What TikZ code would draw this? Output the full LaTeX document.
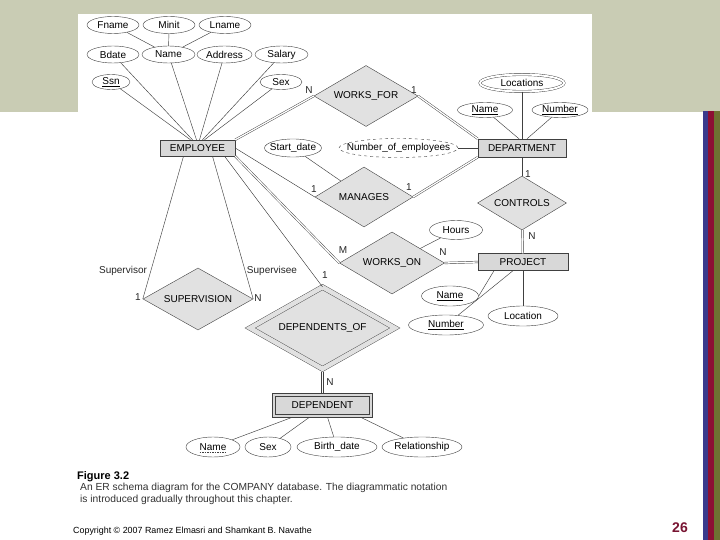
\documentclass[tikz,border=0pt]{standalone}
\usepackage{fontspec}
\setmainfont{Liberation Sans}
\usetikzlibrary{shapes}

\definecolor{bandgray}{RGB}{201,204,180}
\definecolor{boxgray}{RGB}{216,216,216}
\definecolor{diagray}{RGB}{225,225,225}
\definecolor{barblue}{RGB}{58,58,140}
\definecolor{barred}{RGB}{140,16,52}
\definecolor{barolive}{RGB}{110,114,50}
\definecolor{pagered}{RGB}{120,20,50}

\begin{document}
\begin{tikzpicture}[x=1pt, y=-1pt, font=\fontsize{10}{12}\selectfont, entity/.style={
% The shape:
rectangle,
% The size:
minimum width=#1, minimum height=17pt, inner sep=0pt,
% The border:
draw=black!75, fill=boxgray
}, entity/.default=75pt,
rel/.style={
% The shape:
diamond, aspect=1.7,
% The size:
minimum width=#1, inner sep=0pt,
% The border:
draw=black!75, fill=diagray
}, rel/.default=100pt,
attr/.style={
% The shape:
ellipse,
% The size:
minimum width=#1, minimum height=17pt, inner xsep=-30pt, inner ysep=-10pt,
% The border:
draw=black!75
}, attr/.default=52pt,
link/.style={draw=black!75, line width=0.45pt},
dbl/.style={link, double=white, double distance=1.3pt},
card/.style={inner sep=0pt, text=black!85}]

	% slide background
	\fill[white] (0,0) rectangle (720,540);
	\fill[bandgray] (0,0) rectangle (720,112);
	\fill[white] (78,14) rectangle (592,112);
	\fill[barblue] (703,111) rectangle (708,540);
	\fill[barred] (708,111) rectangle (714,540);
	\fill[barolive] (714,111) rectangle (720,540);

	% entities
	\node (EMP) [entity=75pt, minimum height=16pt] at (197.5,148) {EMPLOYEE};
	\node (DEPT) [entity=88pt, minimum height=18pt] at (522,148) {DEPARTMENT};
	\node (PROJ) [entity=90pt] at (523,262) {PROJECT};
	\node (DEP) [entity=100pt, minimum height=24pt] at (322.5,405) {DEPENDENT};
	\draw[link] ([xshift=3pt, yshift=-3pt]DEP.north west) rectangle ([xshift=-3pt, yshift=3pt]DEP.south east);

	% relationships
	\node (WF) [rel=104pt, minimum height=61pt] at (366,96) {WORKS\_FOR};
	\node (MAN) [rel=98pt, minimum height=60pt] at (364,197) {MANAGES};
	\node (CTRL) [rel=89pt, minimum height=54pt] at (522,203) {CONTROLS};
	\node (WO) [rel=105pt, minimum height=62pt] at (392,263) {WORKS\_ON};
	\node (SUP) [rel=110pt, minimum height=62pt] at (198,299) {SUPERVISION};
	\node (DEPOF) [rel=145pt, minimum height=82pt, double=diagray, double distance=4.5pt] at (322.5,328) {DEPENDENTS\_OF};

	% attributes of EMPLOYEE
	\node (FN) [attr] at (113,25) {Fname};
	\node (MI) [attr] at (169,25) {Minit};
	\node (LN) [attr] at (225,25) {Lname};
	\node (BD) [attr] at (113,54.5) {Bdate};
	\node (EN) [attr=53pt] at (168.5,54.5) {Name};
	\node (ADDR) [attr=55pt] at (224.5,54.5) {Address};
	\node (SAL) [attr=53pt] at (281.5,54.5) {Salary};
	\node (SSN) [attr=38pt, minimum height=15pt] at (111,82) {\underline{Ssn}};
	\node (SEX) [attr=42pt, minimum height=15pt] at (281,82) {Sex};

	% attributes of DEPARTMENT and MANAGES
	\node (LOC) [attr=84pt, double, double distance=2pt] at (522,83) {Locations};
	\node (DN) [attr=55pt, minimum height=15pt] at (485,110) {\underline{Name}};
	\node (DNUM) [attr=56pt, minimum height=15pt] at (560,110) {\underline{Number}};
	\node (NOE) [attr=119pt, minimum height=19pt, dashed] at (398.5,148) {Number\_of\_employees};
	\node (SD) [attr=57pt, minimum height=18pt] at (293,148) {Start\_date};

	% attributes of WORKS_ON and PROJECT
	\node (HRS) [attr=53pt, minimum height=19pt] at (456,230) {Hours};
	\node (PN) [attr=57pt, minimum height=20pt] at (450,296) {\underline{Name}};
	\node (PNUM) [attr=75pt, minimum height=20pt] at (446,325) {\underline{Number}};
	\node (PLOC) [attr=70pt, minimum height=20pt] at (523,316) {Location};

	% attributes of DEPENDENT
	\node (DNAME) [attr=54pt, minimum height=20pt] at (213,447) {Name};
	\draw[link, dash pattern=on 1.5pt off 1pt] ([xshift=-13.3pt, yshift=-1.8pt]DNAME.base) -- ([xshift=13.3pt, yshift=-1.8pt]DNAME.base);
	\node (DSEX) [attr=46pt, minimum height=20pt] at (268,447) {Sex};
	\node (DBD) [attr=80pt, minimum height=20pt] at (337,447) {Birth\_date};
	\node (DREL) [attr=80pt, minimum height=20pt] at (422,447) {Relationship};

	% connectors
	\draw[link] (FN) -- (EN);
	\draw[link] (MI) -- (EN);
	\draw[link] (LN) -- (EN);
	\draw[link] (SSN) -- ([xshift=-7]EMP.north);
	\draw[link] (BD) -- ([xshift=-5]EMP.north);
	\draw[link] (EN) -- ([xshift=-1]EMP.north);
	\draw[link] (ADDR) -- ([xshift=2]EMP.north);
	\draw[link] (SAL) -- ([xshift=5]EMP.north);
	\draw[link] (SEX) -- ([xshift=7]EMP.north);

	\draw[dbl] (EMP.north east) -- (WF.west);
	\draw[dbl] (WF.east) -- (DEPT.north west);
	\draw[link] (LOC) -- (DEPT);
	\draw[link] (DN) -- ([xshift=-3]DEPT.north);
	\draw[link] (DNUM) -- ([xshift=5]DEPT.north);
	\draw[link] (NOE) -- (DEPT);
	\draw[link] (SD) -- (MAN);
	\draw[link] (EMP.east) -- (MAN.west);
	\draw[dbl] (MAN.east) -- (DEPT.south west);
	\draw[link] (DEPT) -- (CTRL);
	\draw[dbl] (CTRL) -- (PROJ);

	\draw[dbl] (EMP.south east) -- (WO.west);
	\draw[link] (HRS) -- (WO);
	\draw[dbl] (WO.east) -- (PROJ.west);
	\draw[link] ([xshift=-29]PROJ.south) -- (PN.east);
	\draw[link] ([xshift=-10]PROJ.south) -- (PNUM);
	\draw[link] (PROJ) -- (PLOC);

	\draw[link] ([xshift=-14]EMP.south) -- (SUP.west);
	\draw[link] ([xshift=15]EMP.south) -- (SUP.east);
	\draw[link] ([xshift=27]EMP.south) -- (DEPOF.north);
	\draw[dbl, double distance=1.6pt] ([yshift=-2.5pt]DEPOF.south) -- (DEP.north);
	\draw[link] ([xshift=-30]DEP.south) -- (DNAME);
	\draw[link] ([xshift=-13]DEP.south) -- (DSEX);
	\draw[link] ([xshift=5]DEP.south) -- (DBD);
	\draw[link] ([xshift=38]DEP.south) -- (DREL);

	% cardinalities and roles
	\node (nWF) [card] at (309,90) {N};
	\node (oneWF) [card] at (414,90) {1};
	\node (oneMANl) [card] at (314,189) {1};
	\node (oneMANr) [card] at (409,187) {1};
	\node (oneCT) [card] at (528,174) {1};
	\node (nCT) [card] at (532,236) {N};
	\node (mWO) [card] at (343,250) {M};
	\node (nWO) [card] at (443,252) {N};
	\node (oneSUP) [card] at (138,297) {1};
	\node (nSUP) [card] at (258,298) {N};
	\node (supr) [card] at (123,271) {Supervisor};
	\node (supe) [card] at (272,271) {Supervisee};
	\node (oneDO) [card] at (325,275) {1};
	\node (nDO) [card] at (330,382) {N};

	% caption
	\node (FIG) [anchor=base west, inner sep=0pt, font=\bfseries\fontsize{11}{13}\selectfont] at (77,479) {Figure 3.2};
	\node (CAP1) [anchor=base west, inner sep=0pt, text=black!80, font=\fontsize{10.25}{12}\selectfont] at (80,490.5) {An ER schema diagram for the COMPANY database. The diagrammatic notation};
	\node (CAP2) [anchor=base west, inner sep=0pt, text=black!80, font=\fontsize{10.25}{12}\selectfont] at (80,502.5) {is introduced gradually throughout this chapter.};
	\node (COPY) [anchor=base west, inner sep=0pt, font=\fontsize{8.9}{10}\selectfont] at (73,533) {Copyright \textcopyright{} 2007 Ramez Elmasri and Shamkant B. Navathe};
	\node (PAGE) [font=\bfseries\fontsize{14}{16}\selectfont, text=pagered] at (680,528) {26};
\end{tikzpicture}
\end{document}
